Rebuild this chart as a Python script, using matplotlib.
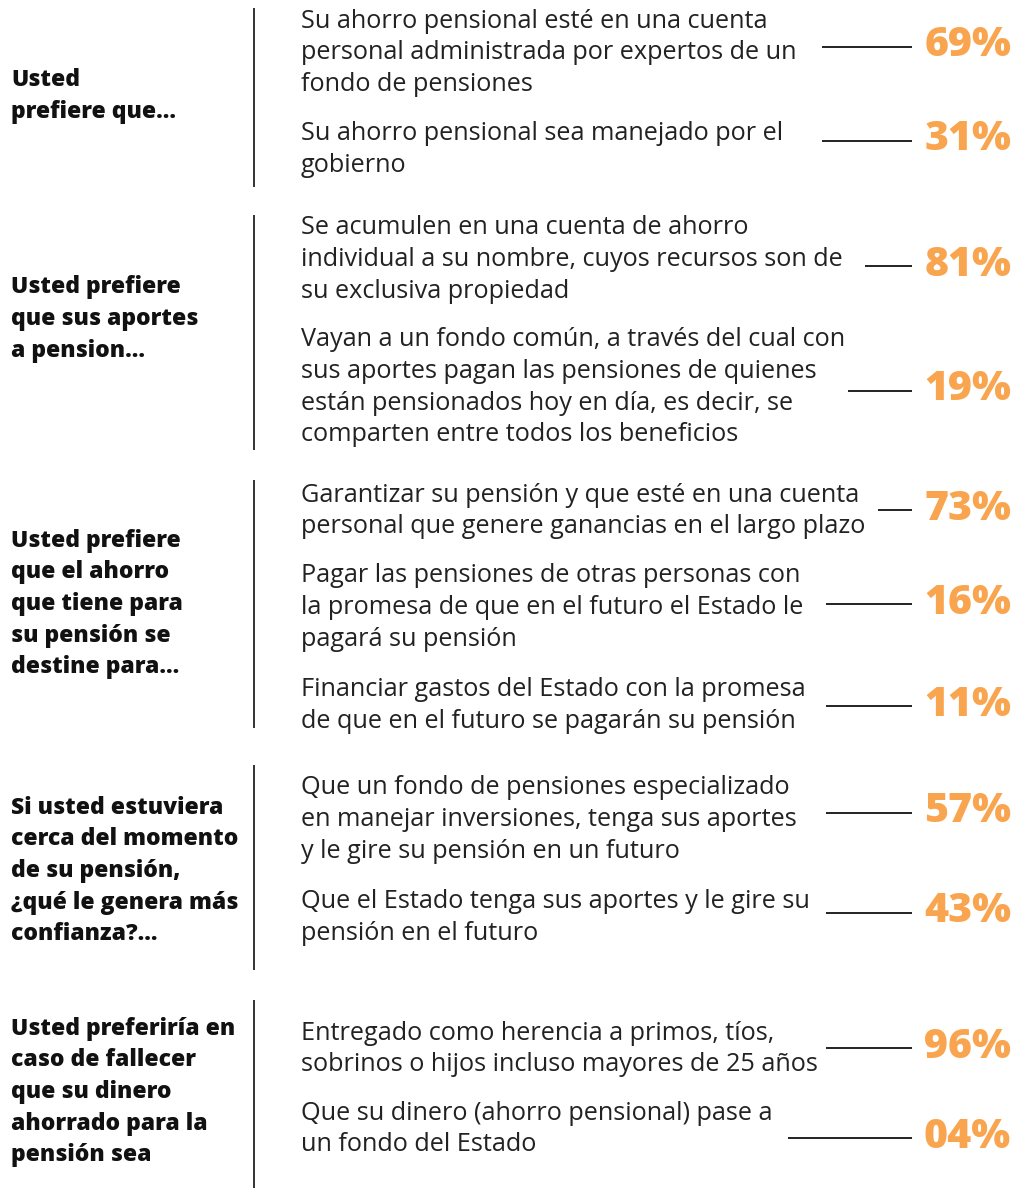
import matplotlib
matplotlib.use("Agg")
import matplotlib.pyplot as plt

# ---------------- data ----------------
headers = [
    "Usted\nprefiere que...",
    "Usted prefiere\nque sus aportes\na pension...",
    "Usted prefiere\nque el ahorro\nque tiene para\nsu pensión se\ndestine para...",
    "Si usted estuviera\ncerca del momento\nde su pensión,\n¿qué le genera más\nconfianza?...",
    "Usted preferiría en\ncaso de fallecer\nque su dinero\nahorrado para la\npensión sea",
]

options_1 = [
    "Su ahorro pensional esté en una cuenta\npersonal administrada por expertos de un\nfondo de pensiones",
    "Su ahorro pensional sea manejado por el\ngobierno",
]
options_2 = [
    "Se acumulen en una cuenta de ahorro\nindividual a su nombre, cuyos recursos son de\nsu exclusiva propiedad",
    "Vayan a un fondo común, a través del cual con\nsus aportes pagan las pensiones de quienes\nestán pensionados hoy en día, es decir, se\ncomparten entre todos los beneficios",
]
options_3 = [
    "Garantizar su pensión y que esté en una cuenta\npersonal que genere ganancias en el largo plazo",
    "Pagar las pensiones de otras personas con\nla promesa de que en el futuro el Estado le\npagará su pensión",
    "Financiar gastos del Estado con la promesa\nde que en el futuro se pagarán su pensión",
]
options_4 = [
    "Que un fondo de pensiones especializado\nen manejar inversiones, tenga sus aportes\ny le gire su pensión en un futuro",
    "Que el Estado tenga sus aportes y le gire su\npensión en el futuro",
]
options_5 = [
    "Entregado como herencia a primos, tíos,\nsobrinos o hijos incluso mayores de 25 años",
    "Que su dinero (ahorro pensional) pase a\nun fondo del Estado",
]

pct_1 = ["69%", "31%"]
pct_2 = ["81%", "19%"]
pct_3 = ["73%", "16%", "11%"]
pct_4 = ["57%", "43%"]
pct_5 = ["96%", "04%"]

options = [options_1, options_2, options_3, options_4, options_5]
pcts = [pct_1, pct_2, pct_3, pct_4, pct_5]

# ---------------- layout (pixels) ----------------
W, H = 1016, 1188
LINE = 31.6
vlines = [(8, 187), (215, 450), (480, 728), (765, 970), (1000, 1188)]
header_center = [96, 319, 604, 871, 1092]
opt_first_y = [[21, 134], [228, 340], [495, 576, 690], [788, 902], [1033, 1113]]
conn = [[(822, 47), (822, 141)],
        [(865, 266), (848, 391)],
        [(878, 510), (826, 604), (826, 706)],
        [(826, 813), (826, 913)],
        [(826, 1048), (788, 1138)]]
CONN_END = 912
PCT_RIGHT = 1011

TEXT = "#222222"
ORANGE = "#F9A54F"
FONT = "Open Sans"

fig = plt.figure(figsize=(W / 100, H / 100), dpi=100)
ax = fig.add_axes([0, 0, 1, 1])
ax.set_xlim(0, W)
ax.set_ylim(H, 0)
ax.axis("off")

for i in range(len(headers)):
    # vertical separator
    ax.plot([254, 254], vlines[i], color="#333333", lw=1.4, solid_capstyle="butt")
    # header
    hl = headers[i].split("\n")
    n = len(hl)
    for k, line in enumerate(hl):
        y = header_center[i] + (k - (n - 1) / 2) * LINE
        ax.text(11, y, line, fontsize=16.5, fontweight="heavy", family=FONT,
                color="#111111", va="center", ha="left")
    # options
    for j, opt in enumerate(options[i]):
        for k, line in enumerate(opt.split("\n")):
            y = opt_first_y[i][j] + k * LINE
            ax.text(301, y, line, fontsize=18.2, family=FONT, color=TEXT,
                    va="center", ha="left")
        x0, yc = conn[i][j]
        ax.plot([x0, CONN_END], [yc, yc], color="#111111", lw=1.3,
                solid_capstyle="butt")
        ax.text(PCT_RIGHT, yc - 1, pcts[i][j], fontsize=29.5, fontweight="heavy",
                family=FONT, color=ORANGE, va="center", ha="right")

fig.savefig("out.png", dpi=100, facecolor="white")
